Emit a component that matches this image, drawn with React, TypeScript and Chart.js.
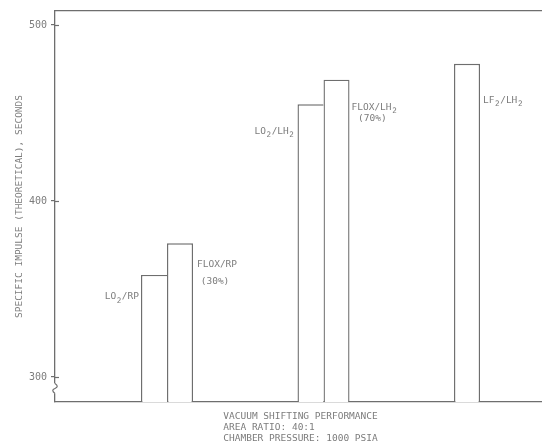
import React, { useEffect, useRef } from 'react';
import { Chart, registerables } from 'chart.js';

Chart.register(...registerables);

// ---- data ----
const groupIndex = [1, 2, 3];
const primaryLabels = ['LO₂/RP', 'LO₂/LH₂', 'LF₂/LH₂'];
const primaryValues = [358, 455, 478];
const floxLabels = ['FLOX/RP', 'FLOX/LH₂'];
const floxMix = ['(30%)', '(70%)'];
const floxValues = [376, 469];
const yTicks = [300, 400, 500];
const yTitle = 'SPECIFIC IMPULSE (THEORETICAL), SECONDS';
const captionLines = ['VACUUM SHIFTING PERFORMANCE', 'AREA RATIO: 40:1', 'CHAMBER PRESSURE: 1000 PSIA'];
const yBreakValue = 293.5;

// ---- style ----
const FONT = '"DejaVu Sans Mono", monospace';
const LINE = '#6e6e6e';
const TEXT = '#7c7c7c';
const LABEL_SIZE = 9.5;

function richWidth(ctx: CanvasRenderingContext2D, text: string, size: number) {
  ctx.font = `${size}px ${FONT}`;
  let w = 0;
  for (const ch of text) w += ctx.measureText(ch === '₂' ? '2' : ch).width;
  return w;
}

function drawRich(ctx: CanvasRenderingContext2D, text: string, x: number, y: number, size: number) {
  let cx = x;
  ctx.save();
  ctx.fillStyle = TEXT;
  ctx.textBaseline = 'middle';
  ctx.textAlign = 'left';
  for (const ch of text) {
    ctx.font = `${size}px ${FONT}`;
    const adv = ctx.measureText(ch === '₂' ? '2' : ch).width;
    if (ch === '₂') {
      ctx.font = `${size * 0.8}px ${FONT}`;
      ctx.fillText('2', cx + adv * 0.1, y + size * 0.38);
    } else {
      ctx.fillText(ch, cx, y);
    }
    cx += adv;
  }
  ctx.restore();
}

const barLabelPlugin = {
  id: 'barLabels',
  afterDatasetsDraw(chart: any) {
    const ctx: CanvasRenderingContext2D = chart.ctx;
    const place = [
      [
        { side: 'left', dx: 2, dy: 22, dy2: 0 },
        { side: 'left', dx: 3, dy: 27, dy2: 0 },
        { side: 'right', dx: 3, dy: 37, dy2: 0 },
      ],
      [
        { side: 'right', dx: 4, dy: 21, dy2: 17 },
        { side: 'right', dx: 2, dy: 28, dy2: 11 },
      ],
    ];
    const texts = [primaryLabels.map((t) => [t]), floxLabels.map((t, i) => [t, floxMix[i]])];
    chart.data.datasets.forEach((_ds: any, di: number) => {
      const meta = chart.getDatasetMeta(di);
      meta.data.forEach((el: any, i: number) => {
        const { x, y, width } = el.getProps(['x', 'y', 'width'], true);
        const p = place[di][i];
        const lines = texts[di][i];
        const w0 = richWidth(ctx, lines[0], LABEL_SIZE);
        const x0 = p.side === 'left' ? x - width / 2 - p.dx - w0 : x + width / 2 + p.dx;
        drawRich(ctx, lines[0], x0, y + p.dy, LABEL_SIZE);
        if (lines[1]) {
          const w1 = richWidth(ctx, lines[1], LABEL_SIZE);
          drawRich(ctx, lines[1], x0 + (w0 - w1) / 2 - 2, y + p.dy + p.dy2, LABEL_SIZE);
        }
      });
    });
  },
};

const captionPlugin = {
  id: 'caption',
  afterDraw(chart: any) {
    const ctx: CanvasRenderingContext2D = chart.ctx;
    const { left, right, bottom } = chart.chartArea;
    ctx.save();
    ctx.font = `${LABEL_SIZE}px ${FONT}`;
    ctx.fillStyle = TEXT;
    ctx.textBaseline = 'middle';
    ctx.textAlign = 'left';
    const maxW = Math.max(...captionLines.map((l) => ctx.measureText(l).width));
    const lx = (left + right) / 2 - maxW / 2 + 2;
    captionLines.forEach((l, i) => ctx.fillText(l, lx, bottom + 15 + i * 11));
    ctx.restore();
  },
};

const axisDecorPlugin = {
  id: 'axisDecor',
  afterDraw(chart: any) {
    const ctx: CanvasRenderingContext2D = chart.ctx;
    const yScale = chart.scales.y;
    const x = chart.chartArea.left;
    ctx.save();
    ctx.strokeStyle = LINE;
    ctx.lineWidth = 1.2;
    // inner halves of the tick marks
    yScale.ticks.forEach((t: any) => {
      const py = Math.round(yScale.getPixelForValue(t.value)) + 0.5;
      ctx.beginPath();
      ctx.moveTo(x, py);
      ctx.lineTo(x + 4, py);
      ctx.stroke();
    });
    // axis break mark
    const y = yScale.getPixelForValue(yBreakValue);
    ctx.fillStyle = '#ffffff';
    ctx.fillRect(x - 3, y - 5, 6, 10);
    ctx.beginPath();
    ctx.moveTo(x, y - 5);
    ctx.bezierCurveTo(x + 3, y - 3, x + 3, y - 1, x, y);
    ctx.bezierCurveTo(x - 3, y + 1, x - 3, y + 3, x, y + 5);
    ctx.stroke();
    ctx.restore();
  },
};

export default function App() {
  const ref = useRef<HTMLCanvasElement>(null);
  useEffect(() => {
    const canvas = ref.current!;
    const chart = new Chart(canvas, {
      type: 'bar',
      data: {
        datasets: [
          {
            label: 'Primary',
            data: primaryValues.map((v, i) => ({ x: groupIndex[i], y: v })),
            backgroundColor: '#ffffff',
            borderColor: LINE,
            borderSkipped: false,
            borderWidth: (c: any) => ({ top: 1.4, left: 1.4, bottom: 0, right: c.dataIndex === 2 ? 1.4 : 0 }),
          },
          {
            label: 'FLOX',
            data: floxValues.map((v, i) => ({ x: groupIndex[i], y: v })),
            backgroundColor: '#ffffff',
            borderColor: LINE,
            borderSkipped: false,
            borderWidth: { top: 1.4, left: 1.4, bottom: 0, right: 1.4 },
          },
        ] as any,
      },
      options: {
        responsive: false,
        animation: false,
        devicePixelRatio: 1,
        layout: { padding: 0 },
        datasets: { bar: { barPercentage: 1, categoryPercentage: 0.3323 } },
        plugins: { legend: { display: false }, tooltip: { enabled: false }, title: { display: false } },
        scales: {
          x: {
            type: 'linear',
            position: 'bottom',
            min: 0.2843,
            max: 3.396,
            offset: false,
            afterBuildTicks: (s: any) => { s.ticks = groupIndex.map((v) => ({ value: v })); },
            grid: { display: false, drawTicks: false },
            ticks: { display: false },
            border: { display: true, color: LINE, width: 1.3 },
            afterFit: (s: any) => { s.height = 45; },
          },
          xTop: {
            type: 'linear',
            position: 'top',
            min: 0,
            max: 1,
            grid: { display: false, drawTicks: false },
            ticks: { display: false },
            border: { display: true, color: LINE, width: 1.3 },
            afterFit: (s: any) => { s.height = 11; },
          },
          y: {
            type: 'linear',
            min: 285.8,
            max: 508,
            afterBuildTicks: (s: any) => { s.ticks = yTicks.map((v) => ({ value: v })); },
            grid: { drawOnChartArea: false, drawTicks: true, tickLength: 4, color: LINE, lineWidth: 1.2 },
            border: { display: true, color: LINE, width: 1.3 },
            ticks: { color: TEXT, font: { family: FONT, size: 10 }, padding: 4 },
            title: {
              display: true,
              text: yTitle,
              color: TEXT,
              font: { family: FONT, size: 9.5, lineHeight: 1 },
              padding: { top: 15, bottom: 0 },
            },
            afterFit: (s: any) => { s.width = 55; },
          },
        },
      } as any,
      plugins: [barLabelPlugin, captionPlugin, axisDecorPlugin],
    });
    return () => chart.destroy();
  }, []);
  return (
    <div style={{ position: 'fixed', left: 0, top: 0, width: 542, height: 447, background: '#ffffff' }}>
      <canvas ref={ref} width={542} height={447} style={{ display: 'block' }} />
    </div>
  );
}
